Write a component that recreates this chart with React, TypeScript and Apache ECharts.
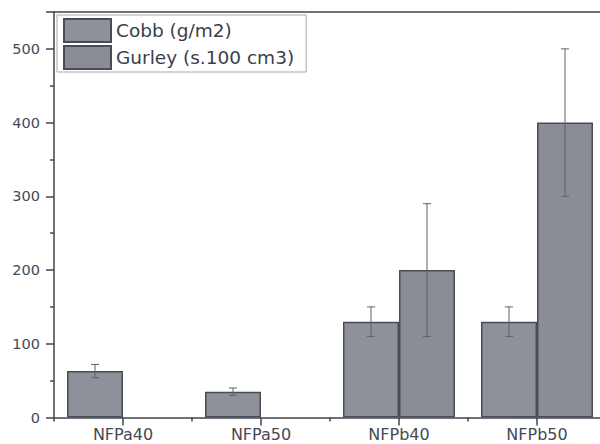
import React, { useEffect, useRef } from "react";
import * as echarts from "echarts";

const categories = ["NFPa40", "NFPa50", "NFPb40", "NFPb50"];
const cobb = [63, 35, 130, 130];
const cobbLow = [54, 30, 110, 110];
const cobbHigh = [72, 40, 150, 150];
const gurley: (number | string)[] = ["-", "-", 200, 400];
const gurleyLow = [null, null, 110, 300];
const gurleyHigh = [null, null, 290, 500];
const yTicks = [0, 100, 200, 300, 400, 500];

const FONT = "DejaVu Sans";
const AXIS = "#3e4450";
const TEXT = "#454a54";
const BAR = "#8e9199";
const BAR_BORDER = "#474c57";
const BAR_W = 56;

function errData(low: (number | null)[], high: (number | null)[]) {
  const out: any[] = [];
  low.forEach((l, i) => {
    if (l !== null && high[i] !== null) out.push([i, l, high[i]]);
  });
  return out;
}

function errRender(offset: number) {
  return (params: any, api: any) => {
    const i = api.value(0);
    const lo = api.coord([i, api.value(1)]);
    const hi = api.coord([i, api.value(2)]);
    const x = lo[0] + offset;
    const cap = 4;
    const style = { stroke: "#5c616b", lineWidth: 1 };
    return {
      type: "group",
      children: [
        { type: "line", shape: { x1: x, y1: lo[1], x2: x, y2: hi[1] }, style },
        { type: "line", shape: { x1: x - cap, y1: hi[1], x2: x + cap, y2: hi[1] }, style },
        { type: "line", shape: { x1: x - cap, y1: lo[1], x2: x + cap, y2: lo[1] }, style },
      ],
    };
  };
}

export default function App() {
  const ref = useRef<HTMLDivElement>(null);
  useEffect(() => {
    if (!ref.current) return;
    const chart = echarts.init(ref.current, undefined, { renderer: "svg" });
    chart.setOption({
      animation: false,
      backgroundColor: "#ffffff",
      textStyle: { fontFamily: FONT },
      grid: {
        left: 54,
        top: 12,
        right: 4,
        bottom: 26.5,
        show: false,
      },
      legend: {
        data: ["Cobb (g/m2)", "Gurley (s.100 cm3)"],
        orient: "vertical",
        left: 57,
        top: 15,
        padding: [3, 12, 2, 6],
        itemWidth: 47,
        itemHeight: 23,
        itemGap: 2,
        borderColor: "#a6a9b0",
        borderWidth: 1,
        icon: "rect",
        textStyle: { fontFamily: FONT, fontSize: 18.5, color: "#3a3f49", lineHeight: 23 },
      },
      xAxis: [
        {
          type: "category",
          data: categories,
          position: "bottom",
          axisLine: { show: true, lineStyle: { color: AXIS, width: 1.5 } },
          axisTick: { show: true, length: 4, lineStyle: { color: AXIS, width: 1.5 } },
          axisLabel: { show: false },
          splitLine: { show: false },
        },
        {
          type: "category",
          data: categories,
          position: "bottom",
          axisLine: { show: false },
          axisTick: { show: true, alignWithLabel: true, length: 8, lineStyle: { color: AXIS, width: 1.5 } },
          axisLabel: { show: true, fontFamily: FONT, fontSize: 16, color: TEXT, margin: 9 },
          splitLine: { show: false },
        },
        {
          type: "category",
          data: categories,
          position: "top",
          axisLine: { show: true, lineStyle: { color: AXIS, width: 1.5 } },
          axisTick: { show: false },
          axisLabel: { show: false },
          splitLine: { show: false },
        },
      ],
      yAxis: {
        type: "value",
        min: 0,
        max: 550,
        interval: 100,
        axisLine: { show: true, lineStyle: { color: AXIS, width: 1.5 } },
        axisTick: { show: true, length: 8, lineStyle: { color: AXIS, width: 1.5 } },
        minorTick: { show: true, splitNumber: 2, length: 4, lineStyle: { color: AXIS, width: 1.5 } },
        splitLine: { show: false },
        axisLabel: {
          fontFamily: FONT,
          fontSize: 14.5,
          color: TEXT,
          margin: 14,
          formatter: (v: number) => (yTicks.includes(v) ? String(v) : ""),
        },
      },
      series: [
        {
          name: "Cobb (g/m2)",
          type: "bar",
          data: cobb,
          barWidth: BAR_W,
          barGap: "0%",
          itemStyle: { color: BAR, borderColor: BAR_BORDER, borderWidth: 1.5 },
        },
        {
          name: "Gurley (s.100 cm3)",
          type: "bar",
          data: gurley,
          barWidth: BAR_W,
          barGap: "0%",
          itemStyle: { color: "#8a8d95", borderColor: BAR_BORDER, borderWidth: 1.5 },
        },
        {
          name: "errCobb",
          type: "custom",
          renderItem: errRender(-BAR_W / 2),
          data: errData(cobbLow, cobbHigh),
          encode: { x: 0, y: [1, 2] },
          z: 10,
        },
        {
          name: "errGurley",
          type: "custom",
          renderItem: errRender(BAR_W / 2),
          data: errData(gurleyLow, gurleyHigh),
          encode: { x: 0, y: [1, 2] },
          z: 10,
        },
      ],
    });
    return () => chart.dispose();
  }, []);
  return <div ref={ref} style={{ width: 610, height: 444, position: "fixed", left: 0, top: 0 }} />;
}
